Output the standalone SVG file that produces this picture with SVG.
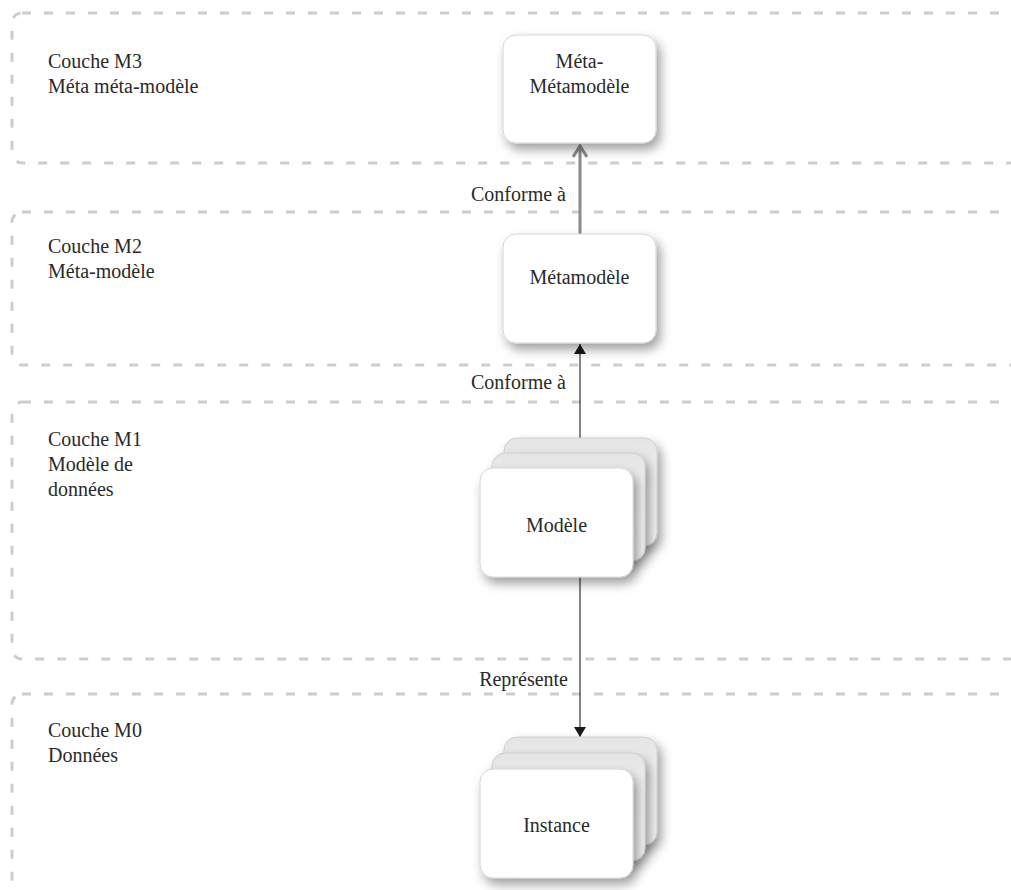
<svg xmlns="http://www.w3.org/2000/svg" width="1011" height="890" viewBox="0 0 1011 890">
  <style>
    .layer { fill: none; stroke: #cdcdcd; stroke-width: 3; stroke-dasharray: 9 13; }
    .txt { font-family: "Liberation Serif", "DejaVu Serif", serif; font-size: 20px; fill: #2a2a2a; }
    .mid { text-anchor: middle; }
    .end { text-anchor: end; }
    .card { fill: #ffffff; stroke: #d6d6d6; stroke-width: 1; }
    .back { fill: url(#backFill); stroke: #cfcfcf; stroke-width: 1; }
    .link { fill: none; stroke: #333333; stroke-width: 1.2; }
    .link-grey { fill: none; stroke: #8a8a8a; stroke-width: 3; }
  </style>
  <defs>
    <filter id="shadow" x="-20%" y="-20%" width="150%" height="170%">
      <feDropShadow dx="4" dy="6" stdDeviation="5.5" flood-color="#000" flood-opacity="0.38"/>
    </filter>
    <linearGradient id="backFill" x1="0" y1="0" x2="0" y2="1">
      <stop offset="0" stop-color="#e4e4e4"/>
      <stop offset="0.3" stop-color="#eeeeee"/>
      <stop offset="1" stop-color="#f4f4f4"/>
    </linearGradient>
    <marker id="tri" viewBox="0 0 10 12" refX="10" refY="6" markerWidth="10" markerHeight="12" markerUnits="userSpaceOnUse" orient="auto">
      <path d="M0,0 L10,6 L0,12 Z" fill="#1a1a1a"/>
    </marker>
    <marker id="chev" viewBox="0 0 14 16" refX="12" refY="8" markerWidth="14" markerHeight="16" markerUnits="userSpaceOnUse" orient="auto">
      <path d="M1,1 L12,8 L1,15" fill="none" stroke="#8a8a8a" stroke-width="3"/>
    </marker>
  </defs>

  <!-- metamodelling layers -->
  <g id="layers">
    <g id="layer-m3">
      <rect class="layer" x="12" y="13" width="1030" height="150" rx="10"/>
      <text class="txt" x="48" y="68">Couche M3</text>
      <text class="txt" x="48" y="93">Méta méta-modèle</text>
    </g>
    <g id="layer-m2">
      <rect class="layer" x="12" y="212" width="1030" height="153" rx="10"/>
      <text class="txt" x="48" y="253">Couche M2</text>
      <text class="txt" x="48" y="278">Méta-modèle</text>
    </g>
    <g id="layer-m1">
      <rect class="layer" x="12" y="402" width="1030" height="257" rx="10"/>
      <text class="txt" x="48" y="446">Couche M1</text>
      <text class="txt" x="48" y="471">Modèle de</text>
      <text class="txt" x="48" y="496">données</text>
    </g>
    <g id="layer-m0">
      <rect class="layer" x="12" y="694" width="1030" height="230" rx="10"/>
      <text class="txt" x="48" y="737">Couche M0</text>
      <text class="txt" x="48" y="762">Données</text>
    </g>
  </g>

  <!-- connectors -->
  <g id="connectors">
    <line class="link-grey" x1="580" y1="234" x2="580" y2="146" marker-end="url(#chev)"/>
    <text class="txt end" x="566" y="201">Conforme à</text>
    <line class="link" x1="580" y1="438" x2="580" y2="344" marker-end="url(#tri)"/>
    <text class="txt end" x="566" y="389">Conforme à</text>
    <line class="link" x1="580" y1="577" x2="580" y2="737" marker-end="url(#tri)"/>
    <text class="txt end" x="568" y="686">Représente</text>
  </g>

  <g id="node-meta-metamodele">
    <rect class="card" x="503" y="35" width="153" height="108" rx="13" filter="url(#shadow)"/>
    <text class="txt mid" x="579.5" y="68">Méta-</text>
    <text class="txt mid" x="579.5" y="93">Métamodèle</text>
  </g>

  <g id="node-metamodele">
    <rect class="card" x="503" y="234" width="153" height="109" rx="13" filter="url(#shadow)"/>
    <text class="txt mid" x="579.5" y="284">Métamodèle</text>
  </g>

  <g id="node-modele">
    <rect class="back" x="504" y="438" width="153" height="108" rx="13" filter="url(#shadow)"/>
    <rect class="back" x="492" y="453" width="153" height="108" rx="13" filter="url(#shadow)"/>
    <rect class="card" x="480" y="468" width="153" height="109" rx="13" filter="url(#shadow)"/>
    <text class="txt mid" x="556.5" y="532">Modèle</text>
  </g>

  <g id="node-instance">
    <rect class="back" x="504" y="737" width="153" height="108" rx="13" filter="url(#shadow)"/>
    <rect class="back" x="492" y="753" width="153" height="108" rx="13" filter="url(#shadow)"/>
    <rect class="card" x="480" y="769" width="153" height="109" rx="13" filter="url(#shadow)"/>
    <text class="txt mid" x="556.5" y="832">Instance</text>
  </g>
</svg>
